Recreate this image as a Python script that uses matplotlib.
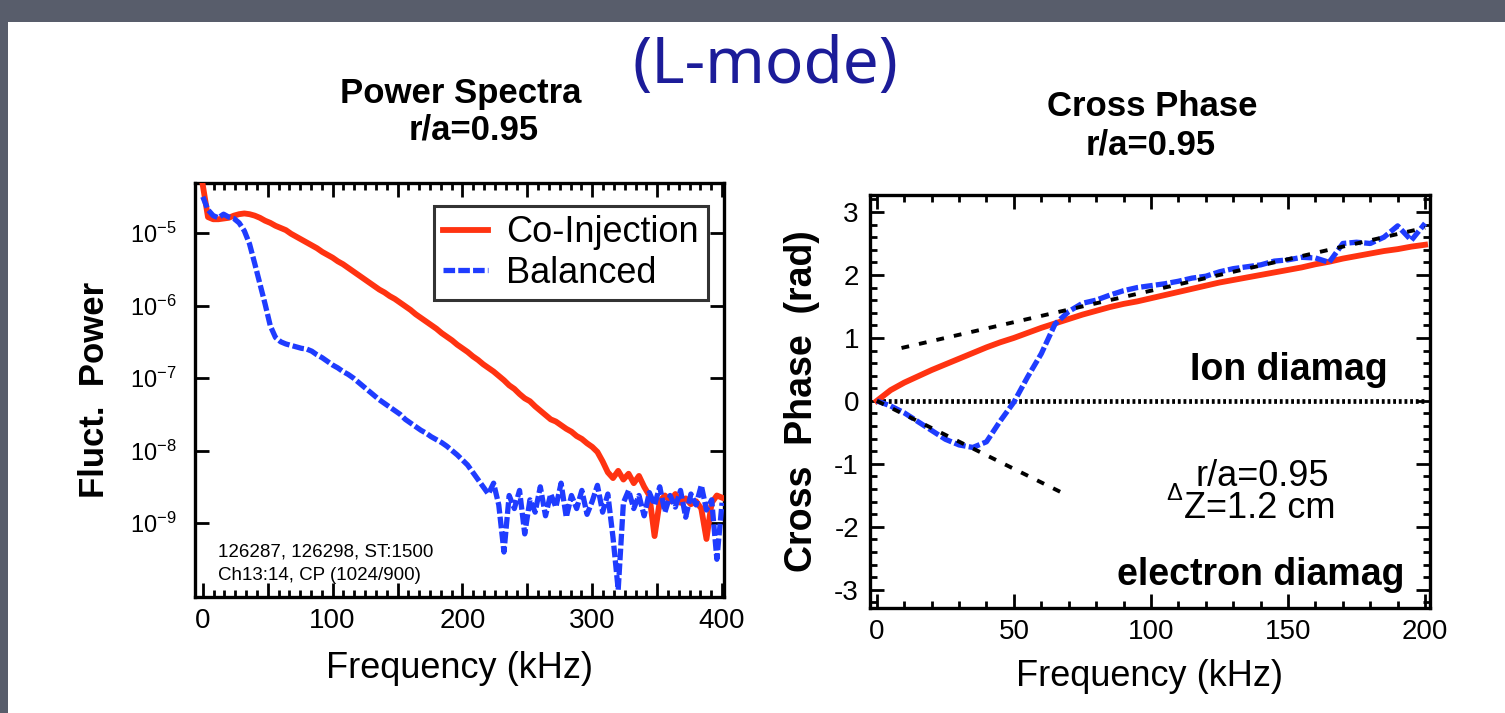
import numpy as np
import matplotlib
matplotlib.use("Agg")
import matplotlib.pyplot as plt
from matplotlib.patches import Rectangle
from matplotlib.ticker import MultipleLocator, FixedLocator, FuncFormatter

plt.rcParams['font.family'] = ['Liberation Sans', 'DejaVu Sans']
plt.rcParams['mathtext.fontset'] = 'custom'
plt.rcParams['mathtext.rm'] = 'Liberation Sans'
plt.rcParams['mathtext.it'] = 'Liberation Sans:italic'
plt.rcParams['mathtext.bf'] = 'Liberation Sans:bold'

# ---------------- Power spectra (log10 of fluctuation power) ----------------
spec_freq_khz = list(range(0, 401, 4))
co_log_power = [
    -4.34, -4.78, -4.81, -4.81, -4.80, -4.79, -4.76, -4.74, -4.73, -4.74,
    -4.76, -4.79, -4.83, -4.86, -4.90, -4.93, -4.96, -5.01, -5.05, -5.09,
    -5.13, -5.17, -5.21, -5.26, -5.30, -5.34, -5.39, -5.43, -5.48, -5.53,
    -5.58, -5.63, -5.68, -5.73, -5.78, -5.82, -5.87, -5.91, -5.96, -6.01,
    -6.06, -6.12, -6.17, -6.22, -6.27, -6.32, -6.38, -6.43, -6.48, -6.54,
    -6.59, -6.64, -6.70, -6.75, -6.81, -6.86, -6.91, -6.97, -7.03, -7.10,
    -7.15, -7.22, -7.28, -7.32, -7.39, -7.45, -7.51, -7.57, -7.60, -7.65,
    -7.70, -7.74, -7.80, -7.84, -7.90, -7.95, -8.02, -8.15, -8.30, -8.38,
    -8.28, -8.40, -8.32, -8.45, -8.35, -8.50, -8.62, -9.18, -8.70, -8.62,
    -8.70, -8.60, -8.72, -8.66, -8.74, -8.70, -8.80, -9.22, -8.72, -8.62,
    -8.65,
]
bal_log_power = [
    -4.50, -4.68, -4.76, -4.79, -4.74, -4.78, -4.80, -4.86, -4.97, -5.15,
    -5.42, -5.70, -5.98, -6.28, -6.44, -6.50, -6.53, -6.55, -6.57, -6.59,
    -6.60, -6.63, -6.68, -6.72, -6.77, -6.82, -6.86, -6.91, -6.95, -7.00,
    -7.06, -7.12, -7.18, -7.24, -7.30, -7.35, -7.40, -7.45, -7.50, -7.57,
    -7.62, -7.67, -7.72, -7.76, -7.81, -7.85, -7.89, -7.94, -8.00, -8.06,
    -8.13, -8.20, -8.30, -8.40, -8.50, -8.60, -8.45, -8.75, -9.40, -8.62,
    -8.80, -8.55, -9.15, -8.68, -8.85, -8.50, -8.90, -8.60, -8.78, -8.45,
    -8.92, -8.62, -8.80, -8.55, -8.88, -8.70, -8.48, -8.85, -8.60, -9.20,
    -9.92, -8.72, -8.55, -8.80, -8.62, -8.90, -8.58, -8.75, -8.50, -8.85,
    -8.62, -8.78, -8.55, -8.92, -8.60, -8.75, -8.48, -8.82, -8.68, -9.50,
    -8.72,
]
spec_decades = [-9, -8, -7, -6, -5]

# ---------------- Cross phase (rad) ----------------
phase_freq_khz = list(range(0, 201, 5))
co_phase = [
    0.00, 0.17, 0.29, 0.39, 0.49, 0.58, 0.67, 0.76, 0.85, 0.93,
    1.00, 1.08, 1.16, 1.23, 1.30, 1.37, 1.43, 1.49, 1.54, 1.58,
    1.63, 1.68, 1.73, 1.78, 1.83, 1.88, 1.92, 1.96, 2.00, 2.04,
    2.08, 2.12, 2.17, 2.21, 2.26, 2.30, 2.34, 2.38, 2.41, 2.45,
    2.48,
]
bal_phase = [
    0.00, -0.08, -0.19, -0.33, -0.47, -0.61, -0.70, -0.74, -0.65, -0.32,
    -0.02, 0.38, 0.75, 1.22, 1.42, 1.55, 1.60, 1.68, 1.75, 1.80,
    1.83, 1.86, 1.90, 1.95, 1.98, 2.05, 2.10, 2.13, 2.16, 2.22,
    2.24, 2.28, 2.27, 2.20, 2.50, 2.52, 2.50, 2.60, 2.78, 2.55,
    2.82,
]
ion_fit_freq = [9, 200]
ion_fit_phase = [0.84, 2.75]
elec_fit_freq = [0, 69]
elec_fit_phase = [0.0, -1.49]

RED = '#ff3311'
BLUE = '#1f3cff'

W, H = 1505, 713
fig = plt.figure(figsize=(W / 100, H / 100), dpi=100)
fig.patch.set_facecolor('#585d6b')
fig.patches.append(Rectangle((8 / W, 0), 1 - 8 / W, 1 - 22 / H,
                             transform=fig.transFigure, facecolor='white',
                             edgecolor='none', zorder=-10))


def style_axes(ax):
    for s in ax.spines.values():
        s.set_linewidth(2.4)
    ax.tick_params(which='both', direction='in', top=True, right=True,
                   width=2.0, colors='black')
    ax.tick_params(which='major', length=10, labelsize=20, pad=8)
    ax.tick_params(which='minor', length=5)


# ----- left panel -----
ax1 = fig.add_axes([195 / W, 1 - 597 / H, 529 / W, 414 / H])
ax1.set_yscale('log')
f_spec = np.array(spec_freq_khz)
ax1.plot(f_spec, 10.0 ** np.array(co_log_power), color=RED, lw=4.2,
         label='Co-Injection', zorder=3)
ax1.plot(f_spec, 10.0 ** np.array(bal_log_power), color=BLUE, lw=3.8,
         ls=(0, (2.2, 0.6)), label='Balanced', zorder=4)
ax1.set_xlim(-6, 401.5)
ax1.set_ylim(10 ** -10.02, 10 ** -4.31)
style_axes(ax1)
ax1.xaxis.set_major_locator(MultipleLocator(50))
ax1.xaxis.set_minor_locator(MultipleLocator(100 / 12))
ax1.xaxis.set_major_formatter(FuncFormatter(
    lambda v, p: f'{int(round(v))}' if abs(v % 100) < 1e-6 else ''))
ax1.yaxis.set_major_locator(FixedLocator([10.0 ** d for d in spec_decades]))
ax1.yaxis.set_minor_locator(FixedLocator([]))
ax1.set_yticklabels([rf'10$^{{\mathregular{{{d}}}}}$' for d in spec_decades])
ax1.tick_params(axis='y', labelsize=17, pad=13)
ax1.set_xlabel('Frequency (kHz)', fontsize=26, labelpad=12)
ax1.set_ylabel('Fluct.  Power', fontsize=25, fontweight='bold', labelpad=14)
leg = ax1.legend(loc='upper right', bbox_to_anchor=(0.970, 0.944),
                 borderaxespad=0, fontsize=26, frameon=True, fancybox=False,
                 edgecolor='black', handlelength=1.25, handletextpad=0.5,
                 borderpad=0.25, labelspacing=0.15)
leg.get_frame().set_linewidth(2.2)
ax1.text(0.043, 0.109, '126287, 126298, ST:1500', transform=ax1.transAxes,
         fontsize=13.5, va='center', ha='left')
ax1.text(0.043, 0.053, 'Ch13:14, CP (1024/900)', transform=ax1.transAxes,
         fontsize=13.5, va='center', ha='left')

# ----- right panel -----
ax2 = fig.add_axes([870 / W, 1 - 608 / H, 560 / W, 413 / H])
f_ph = np.array(phase_freq_khz)
ax2.plot([0, 200], [0, 0], color='black', lw=3.4, ls=(0, (0.6, 0.6)), zorder=2)
ax2.plot(ion_fit_freq, ion_fit_phase, color='black', lw=2.8,
         ls=(0, (2.0, 2.6)), zorder=5)
ax2.plot(elec_fit_freq, elec_fit_phase, color='black', lw=2.8,
         ls=(0, (2.0, 2.6)), zorder=5)
ax2.plot(f_ph, co_phase, color=RED, lw=4.2, zorder=3)
ax2.plot(f_ph, bal_phase, color=BLUE, lw=3.8, ls=(0, (2.2, 0.6)), zorder=4)
ax2.set_xlim(-2.5, 201.8)
ax2.set_ylim(-3.29, 3.27)
style_axes(ax2)
ax2.xaxis.set_major_locator(MultipleLocator(50))
ax2.xaxis.set_minor_locator(MultipleLocator(10))
ax2.yaxis.set_major_locator(MultipleLocator(1))
ax2.yaxis.set_minor_locator(MultipleLocator(0.2))
ax2.yaxis.set_major_formatter(FuncFormatter(lambda v, p: f'{int(round(v))}'))
ax2.set_xlabel('Frequency (kHz)', fontsize=26, labelpad=10)
ax2.set_ylabel('Cross  Phase  (rad)', fontsize=27, fontweight='bold', labelpad=10)
ax2.text(0.925, 0.576, 'Ion diamag', transform=ax2.transAxes, fontsize=27,
         fontweight='bold', ha='right', va='center')
ax2.text(0.954, 0.080, 'electron diamag', transform=ax2.transAxes, fontsize=27,
         fontweight='bold', ha='right', va='center')
ax2.text(0.700, 0.318, 'r/a=0.95', transform=ax2.transAxes, fontsize=26,
         ha='center', va='center')
ax2.text(0.560, 0.240, 'Z=1.2 cm', transform=ax2.transAxes, fontsize=26,
         ha='left', va='center')
ax2.text(0.558, 0.275, '\u0394', transform=ax2.transAxes, fontsize=17,
         ha='right', va='center')

# ----- titles -----
fig.text(461 / W, 1 - 93 / H, 'Power Spectra', fontsize=25, fontweight='bold',
         ha='center', va='center')
fig.text(474 / W, 1 - 130 / H, 'r/a=0.95', fontsize=25, fontweight='bold',
         ha='center', va='center')
fig.text(1152 / W, 1 - 106 / H, 'Cross Phase', fontsize=25, fontweight='bold',
         ha='center', va='center')
fig.text(1151 / W, 1 - 145 / H, 'r/a=0.95', fontsize=25, fontweight='bold',
         ha='center', va='center')
fig.text(765 / W, 1 - 66 / H, '(L-mode)', fontsize=46, color='#1c1c99',
         family='Noto Sans', ha='center', va='center')

fig.savefig('out.png', dpi=100, facecolor=fig.get_facecolor())
